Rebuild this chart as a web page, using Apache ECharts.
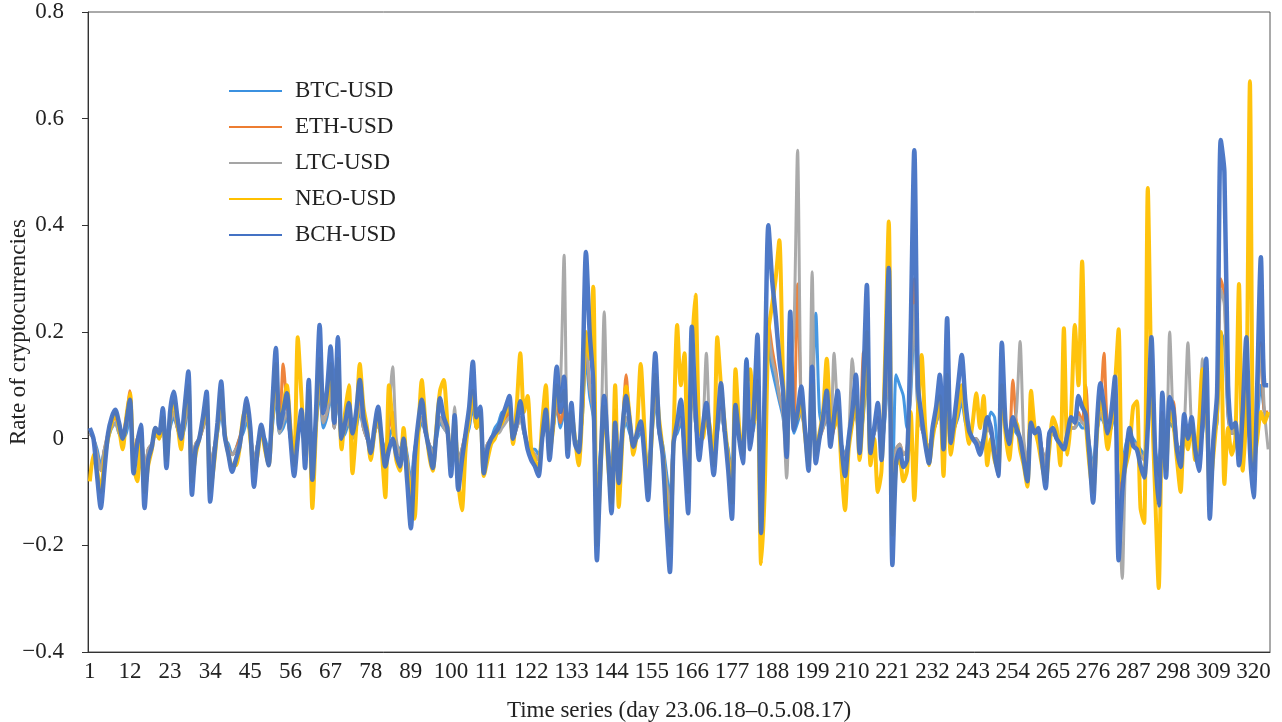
<!DOCTYPE html>
<html>
<head>
<meta charset="utf-8">
<script src="https://cdn.jsdelivr.net/npm/echarts@6/dist/echarts.min.js"></script>
<style>html,body{margin:0;padding:0;background:#fff}#c{width:1282px;height:722px}</style>
</head>
<body>
<div id="c"></div>
<script>
const seriesNames = ['BTC-USD','ETH-USD','LTC-USD','NEO-USD','BCH-USD'];
const colors = ['#3b91e0','#ed7d31','#a5a5a5','#ffc000','#4472c4'];
const yTicks = [-0.4,-0.2,0,0.2,0.4,0.6,0.8];

const btc = [
0.01,0.0,-0.02,-0.05,-0.02,0.0,0.02,0.03,0.01,0.0,
0.01,0.04,-0.03,0.0,0.01,-0.06,-0.02,-0.01,0.01,0.0,
0.02,-0.02,0.02,0.04,0.02,0.0,0.02,0.06,-0.04,-0.01,
0.0,0.02,0.04,-0.05,-0.02,0.01,0.05,0.0,-0.01,-0.03,
-0.02,0.0,0.01,0.03,0.01,-0.04,-0.01,0.01,0.0,-0.02,
0.02,0.08,0.01,0.02,0.04,0.0,-0.03,0.01,0.02,-0.02,
0.05,-0.03,0.02,0.09,0.02,0.04,0.08,0.02,0.08,0.0,
0.01,0.03,0.0,0.02,0.05,0.02,0.0,-0.01,0.01,0.03,
0.0,-0.02,0.0,0.02,-0.01,-0.02,0.0,-0.03,-0.08,-0.02,
0.01,0.03,0.01,-0.01,-0.02,0.0,0.03,0.02,0.01,-0.03,
0.02,-0.04,-0.02,0.0,0.02,0.06,0.02,0.03,-0.03,-0.01,
0.0,0.02,0.03,0.05,0.04,0.05,0.0,0.02,0.04,0.01,
-0.01,-0.02,-0.02,-0.03,0.0,0.03,-0.02,0.02,0.06,0.02,
0.05,-0.01,0.03,0.0,-0.01,0.04,0.15,0.08,0.04,-0.1,
-0.02,0.03,-0.01,-0.06,0.01,-0.03,0.01,0.03,0.01,-0.01,
0.0,0.01,-0.01,-0.05,0.0,0.07,0.01,-0.01,-0.06,-0.11,
0.0,0.01,0.03,-0.01,-0.06,0.09,0.03,-0.02,0.01,0.03,
0.0,-0.03,0.01,0.05,0.01,-0.02,-0.07,0.03,0.0,-0.02,
0.15,0.0,0.02,0.09,-0.08,0.05,0.17,0.13,0.1,0.07,
0.04,-0.02,0.1,0.01,0.03,0.05,0.02,-0.02,0.07,0.235,
0.05,0.02,0.04,0.0,0.02,0.04,-0.01,-0.03,0.0,0.03,
0.05,-0.01,0.04,0.12,-0.01,0.01,0.03,-0.02,0.04,0.13,
-0.1,0.12,0.1,0.08,0.02,0.08,0.22,0.05,0.02,0.0,
-0.02,0.01,0.03,0.05,0.0,0.09,0.0,0.02,0.04,0.07,
0.03,0.01,0.0,0.0,-0.01,0.0,0.02,0.05,0.04,-0.03,
0.08,0.02,0.0,0.02,0.01,0.0,-0.02,-0.04,0.05,0.01,
0.01,-0.02,-0.04,0.0,0.01,0.0,-0.01,-0.01,0.0,0.02,
0.02,0.03,0.02,0.02,-0.01,-0.05,0.01,0.04,0.03,0.01,
0.02,0.05,-0.09,-0.05,-0.01,0.01,0.0,-0.01,-0.02,-0.03,
0.02,0.08,-0.02,-0.05,0.03,-0.03,0.03,0.02,-0.01,-0.02,
0.02,0.0,0.02,-0.01,-0.02,0.01,0.06,-0.06,0.0,0.03,
0.2,0.18,0.04,0.01,0.01,-0.02,0.02,0.07,-0.01,-0.04,
0.03,0.1,0.05,0.04];

const eth = [
0.01,0.0,-0.03,-0.06,-0.02,0.01,0.03,0.04,0.02,0.01,
0.04,0.09,-0.03,0.0,0.02,-0.07,-0.02,-0.01,0.01,0.0,
0.03,-0.03,0.03,0.05,0.02,0.0,0.03,0.07,-0.05,-0.01,
0.0,0.02,0.05,-0.06,-0.02,0.02,0.06,0.01,-0.02,-0.03,
-0.02,0.0,0.03,0.07,0.02,-0.05,-0.01,0.01,-0.01,-0.03,
0.03,0.1,0.02,0.14,0.06,0.0,-0.04,0.02,0.03,-0.03,
0.06,-0.04,0.03,0.12,0.03,0.05,0.1,0.02,0.1,0.0,
0.02,0.04,0.0,0.03,0.07,0.02,0.0,-0.02,0.01,0.03,
0.0,-0.03,0.02,0.05,-0.01,-0.03,0.0,-0.04,-0.1,-0.03,
0.02,0.04,0.01,-0.01,-0.03,0.01,0.04,0.03,0.01,-0.04,
0.03,-0.05,-0.02,0.01,0.03,0.08,0.02,0.03,-0.04,-0.01,
0.0,0.01,0.02,0.03,0.04,0.05,0.0,0.02,0.04,0.02,
-0.01,-0.02,-0.03,-0.04,0.0,0.03,-0.02,0.02,0.07,0.03,
0.06,-0.02,0.04,-0.01,-0.02,0.05,0.18,0.1,0.05,-0.13,
-0.03,0.04,-0.02,-0.09,0.054,-0.05,0.02,0.12,0.03,-0.01,
0.01,0.02,-0.02,-0.07,0.01,0.09,0.02,-0.02,-0.08,-0.14,
0.0,0.02,0.04,-0.02,-0.08,0.12,0.04,-0.02,0.01,0.04,
0.0,-0.04,0.02,0.06,0.01,-0.03,-0.09,0.04,0.0,-0.02,
0.09,-0.01,0.03,0.11,-0.1,0.06,0.22,0.17,0.13,0.08,
0.05,-0.02,0.13,0.02,0.29,0.06,0.02,-0.03,0.08,-0.03,
0.0,0.02,0.05,-0.01,0.02,0.05,-0.01,-0.04,0.0,0.03,
0.07,-0.01,0.16,0.17,-0.01,0.01,0.04,-0.02,0.06,0.18,
-0.13,-0.02,-0.01,-0.03,-0.02,0.11,0.3,0.06,0.02,0.0,
-0.02,0.01,0.03,0.07,-0.01,0.12,0.0,0.02,0.05,0.09,
0.04,0.01,0.0,0.0,-0.02,0.0,0.02,0.01,-0.02,-0.04,
0.1,0.02,-0.01,0.11,0.03,0.0,-0.02,-0.05,0.07,0.01,
0.01,-0.02,-0.05,0.01,0.01,0.0,-0.01,-0.01,0.01,0.02,
0.02,0.05,0.03,0.1,-0.02,-0.07,0.01,0.06,0.16,0.03,
0.03,0.07,-0.13,-0.06,-0.02,0.01,-0.01,-0.01,-0.03,-0.04,
0.03,0.1,-0.03,-0.07,0.05,-0.04,0.05,0.07,-0.01,-0.03,
0.03,0.01,0.02,-0.01,-0.03,0.02,0.08,-0.08,0.0,0.04,
0.3,0.27,0.05,0.01,0.02,-0.03,0.03,0.1,-0.01,-0.06,
0.05,0.18,0.05,0.05];

const ltc = [
0.01,0.0,-0.03,-0.06,-0.02,0.01,0.02,0.03,0.01,0.0,
0.02,0.05,-0.03,-0.01,0.02,-0.07,-0.02,-0.01,0.01,0.0,
0.03,-0.03,0.03,0.05,0.02,0.0,0.03,0.07,-0.05,-0.01,
0.0,0.02,0.05,-0.06,-0.02,0.02,0.06,0.0,-0.02,-0.03,
-0.02,-0.01,0.02,0.04,0.01,-0.05,-0.01,0.01,-0.01,-0.03,
0.03,0.09,0.01,0.03,0.05,0.0,-0.04,0.02,0.03,-0.03,
0.06,-0.04,0.03,0.11,0.03,0.05,0.09,0.02,0.1,0.0,
0.02,0.04,0.0,0.03,0.06,0.02,0.0,-0.02,0.01,0.03,
0.0,-0.03,0.05,0.135,0.0,-0.03,0.0,-0.04,-0.09,-0.03,
0.02,0.04,0.01,-0.01,-0.03,0.01,0.04,0.02,0.01,-0.04,
0.06,-0.05,-0.02,0.01,0.03,0.08,0.02,0.03,-0.04,-0.01,
0.0,0.01,0.01,0.02,0.03,0.04,0.0,0.02,0.04,0.01,
-0.01,-0.02,-0.03,-0.04,0.0,0.03,-0.02,0.02,0.07,0.1,
0.344,-0.02,0.04,-0.01,-0.02,0.05,0.18,0.1,0.05,-0.12,
-0.03,0.238,-0.01,-0.08,0.02,-0.04,0.01,0.04,0.02,-0.01,
0.01,0.02,-0.02,-0.06,0.01,0.08,0.01,-0.02,-0.08,-0.13,
-0.01,0.02,0.04,-0.02,-0.07,0.11,0.03,-0.02,0.01,0.16,
0.0,-0.04,0.01,0.05,0.01,-0.03,-0.08,0.03,0.0,-0.02,
0.08,-0.01,0.03,0.1,-0.09,0.05,0.2,0.15,0.12,0.08,
0.05,-0.074,0.12,0.2,0.541,0.05,0.02,-0.03,0.313,-0.03,
0.0,0.02,0.05,-0.01,0.16,0.05,-0.01,-0.04,0.0,0.15,
0.06,-0.01,0.05,0.14,-0.01,0.01,0.03,-0.02,0.05,0.16,
-0.12,-0.02,-0.01,-0.03,-0.02,0.1,0.25,0.05,0.02,0.0,
-0.02,0.01,0.03,0.06,-0.01,0.11,0.0,0.02,0.05,0.08,
0.04,0.01,0.0,0.0,-0.02,0.0,0.02,0.01,-0.02,-0.07,
0.09,0.02,-0.01,0.02,0.05,0.182,0.0,-0.04,0.02,0.01,
0.01,-0.02,-0.05,0.01,0.01,0.0,-0.01,-0.01,0.01,0.02,
0.02,0.04,0.03,0.02,-0.02,-0.06,0.01,0.05,0.03,0.01,
0.03,0.06,-0.1,-0.262,-0.02,0.01,-0.01,-0.01,-0.03,-0.04,
0.03,0.1,-0.03,-0.06,0.04,-0.04,0.2,0.03,-0.01,-0.03,
0.02,0.18,0.02,-0.01,-0.03,0.15,0.08,-0.08,0.0,0.04,
0.28,0.25,0.05,0.01,0.02,-0.03,0.03,0.1,-0.01,-0.06,
0.05,0.17,0.05,-0.02];

const neo = [
-0.08,-0.03,-0.06,-0.1,-0.04,0.0,0.03,0.05,0.02,-0.02,
0.04,0.085,-0.05,-0.08,0.0,-0.1,-0.05,-0.02,0.02,0.0,
0.04,-0.04,0.04,0.07,0.03,-0.02,0.05,0.1,-0.08,-0.03,
0.0,0.03,0.07,-0.1,-0.05,0.02,0.09,0.01,-0.03,-0.05,
-0.05,-0.02,0.04,0.06,0.0,-0.06,-0.03,0.02,-0.02,-0.05,
0.04,0.14,0.03,0.06,0.1,0.02,-0.05,0.19,0.08,-0.03,
0.09,-0.13,0.02,0.15,0.06,0.07,0.14,0.04,0.15,-0.02,
0.05,0.1,-0.065,0.02,0.14,0.06,0.02,-0.04,0.01,0.05,
-0.02,-0.11,0.1,0.03,-0.04,-0.06,0.02,-0.06,-0.1,-0.15,
0.0,0.11,0.03,-0.03,-0.06,0.02,0.09,0.11,0.03,-0.05,
0.03,-0.08,-0.134,-0.02,0.04,0.09,0.02,0.05,-0.07,-0.04,
-0.01,0.0,0.02,0.03,0.05,0.06,-0.01,0.06,0.16,0.05,
0.08,-0.02,-0.04,-0.06,0.03,0.1,-0.03,0.02,0.1,0.07,
0.09,-0.02,0.05,0.0,-0.05,0.05,0.2,0.15,0.285,-0.2,
-0.06,0.06,-0.04,-0.12,0.1,-0.128,0.0,0.098,0.04,-0.03,
0.02,0.14,0.02,-0.1,0.0,0.12,0.04,-0.02,-0.12,-0.2,
0.0,0.213,0.1,0.16,-0.1,0.15,0.27,0.02,0.0,0.05,
0.02,-0.05,0.19,0.1,0.03,-0.04,-0.12,0.13,0.02,-0.03,
0.1,0.13,0.03,0.1,-0.235,-0.096,0.2,0.25,0.3,0.372,
0.12,-0.02,0.15,0.03,0.04,0.07,0.01,-0.05,0.1,-0.03,
0.01,0.05,0.15,0.04,0.02,0.06,-0.05,-0.134,-0.02,0.03,
0.08,-0.04,0.06,0.2,-0.05,0.0,-0.1,-0.06,0.15,0.407,
-0.18,-0.05,-0.04,-0.08,-0.06,0.05,-0.115,0.05,0.157,0.02,
-0.05,0.0,0.04,0.08,-0.07,0.12,-0.03,0.02,0.06,0.1,
0.04,-0.01,0.03,0.085,0.02,0.08,-0.05,0.0,-0.04,-0.06,
0.1,0.01,-0.04,0.02,0.03,-0.02,-0.05,-0.09,0.09,0.02,
-0.01,-0.05,-0.08,-0.02,0.04,0.02,-0.05,0.207,-0.03,0.05,
0.213,0.1,0.332,0.04,-0.05,-0.1,0.0,0.08,0.04,-0.02,
0.03,0.1,0.205,-0.08,-0.05,-0.02,0.06,0.07,-0.13,-0.158,
0.47,0.1,-0.1,-0.28,0.04,-0.06,0.05,0.03,-0.04,-0.1,
0.02,-0.02,0.03,-0.04,0.02,0.13,0.08,-0.1,-0.03,0.05,
0.2,-0.085,0.02,-0.03,0.0,0.29,-0.06,0.05,0.67,-0.05,
0.0,0.05,0.03,0.05];

const bch = [
0.02,0.0,-0.07,-0.13,-0.06,0.01,0.04,0.054,0.03,0.0,
0.03,0.073,-0.065,-0.01,0.026,-0.13,-0.04,-0.015,0.02,0.01,
0.057,-0.055,0.05,0.088,0.04,0.0,0.06,0.126,-0.105,-0.02,
0.0,0.04,0.088,-0.118,-0.04,0.03,0.107,0.005,-0.03,-0.062,
-0.04,-0.015,0.03,0.076,0.02,-0.09,-0.02,0.026,-0.01,-0.05,
0.06,0.17,0.02,0.05,0.085,0.0,-0.07,0.0,0.054,-0.055,
0.11,-0.077,0.05,0.213,0.048,0.09,0.173,0.03,0.19,0.0,
0.03,0.067,0.01,0.05,0.11,0.04,0.01,-0.027,0.02,0.06,
0.0,-0.052,-0.02,0.0,-0.03,-0.052,0.0,-0.08,-0.168,-0.04,
0.03,0.073,0.016,-0.02,-0.055,0.01,0.076,0.04,0.02,-0.07,
0.044,-0.096,-0.04,0.01,0.06,0.144,0.04,0.06,-0.065,-0.02,
0.0,0.01,0.02,0.04,0.06,0.08,0.0,0.03,0.07,0.02,
-0.02,-0.04,-0.052,-0.07,0.0,0.054,-0.04,0.04,0.135,0.05,
0.116,-0.034,0.067,-0.01,-0.025,0.1,0.35,0.2,0.104,-0.228,
-0.05,0.08,-0.02,-0.14,0.03,-0.083,0.02,0.08,0.03,-0.015,
0.01,0.032,-0.03,-0.115,0.02,0.16,0.023,-0.03,-0.15,-0.25,
-0.01,0.03,0.073,-0.03,-0.14,0.21,0.06,-0.04,0.02,0.067,
0.0,-0.068,0.02,0.104,0.016,-0.06,-0.15,0.063,0.0,-0.046,
0.148,-0.02,0.05,0.195,-0.177,0.1,0.4,0.3,0.23,0.15,
0.09,-0.034,0.238,0.016,0.05,0.098,0.02,-0.06,0.135,-0.046,
0.0,0.04,0.09,-0.015,0.04,0.09,-0.01,-0.07,0.0,0.05,
0.12,-0.027,0.1,0.288,-0.027,0.02,0.067,-0.04,0.1,0.32,
-0.237,-0.046,-0.02,-0.053,-0.04,0.2,0.541,0.1,0.04,-0.01,
-0.046,0.02,0.06,0.12,-0.02,0.226,-0.008,0.04,0.1,0.157,
0.07,0.016,0.0,-0.01,-0.03,0.0,0.04,0.02,-0.03,-0.07,
0.18,0.03,-0.01,0.04,0.02,0.0,-0.04,-0.08,0.03,0.01,
0.02,-0.04,-0.093,0.01,0.02,0.0,-0.01,-0.02,0.01,0.04,
0.03,0.08,0.06,0.045,-0.03,-0.12,0.02,0.104,0.06,0.01,
0.05,0.116,-0.228,-0.1,-0.034,0.02,-0.014,-0.02,-0.05,-0.073,
0.02,0.19,-0.02,-0.125,0.086,-0.073,0.078,0.055,-0.02,-0.053,
0.046,0.0,0.04,-0.02,-0.06,0.03,0.15,-0.15,0.0,0.086,
0.56,0.5,0.1,0.02,0.03,-0.05,0.05,0.19,-0.02,-0.11,
0.1,0.34,0.1,0.1];

const days = bch.map((v, i) => String(i + 1));
const seriesData = [btc, eth, ltc, neo, bch];
const widths = [3, 3, 3, 4, 4.5];

const font = 'Liberation Serif, Times New Roman, serif';
const chart = echarts.init(document.getElementById('c'), null, {renderer: 'canvas'});
chart.setOption({
  animation: false,
  backgroundColor: '#ffffff',
  grid: {left: 88, right: 12, top: 12, bottom: 70, show: true, borderColor: '#555', borderWidth: 1,
         containLabel: false, outerBoundsMode: 'none'},
  legend: {
    data: seriesNames,
    orient: 'vertical',
    left: 224,
    top: 74,
    itemWidth: 53,
    itemHeight: 2,
    itemGap: 12,
    icon: 'rect',
    textStyle: {fontFamily: font, fontSize: 23, color: '#222', lineHeight: 24, padding: [0, 0, 0, 8]}
  },
  xAxis: {
    type: 'category',
    data: days,
    boundaryGap: true,
    name: 'Time series (day 23.06.18\u20130.5.08.17)',
    nameLocation: 'middle',
    nameGap: 47,
    nameMoveOverlap: false,
    nameTextStyle: {fontFamily: font, fontSize: 23, color: '#222'},
    axisLine: {onZero: false, lineStyle: {color: '#333', width: 1}},
    axisTick: {alignWithLabel: true, interval: 10, length: 6, lineStyle: {color: '#333'}},
    axisLabel: {interval: 10, fontFamily: font, fontSize: 23, color: '#222', margin: 8},
    splitLine: {show: false}
  },
  yAxis: {
    type: 'value',
    min: yTicks[0],
    max: yTicks[yTicks.length - 1],
    interval: 0.2,
    name: 'Rate of cryptocurrencies',
    nameLocation: 'middle',
    nameRotate: 90,
    nameGap: 58,
    nameMoveOverlap: false,
    nameTextStyle: {fontFamily: font, fontSize: 23, color: '#222'},
    axisLine: {show: true, onZero: false, lineStyle: {color: '#333', width: 1}},
    axisTick: {show: true, length: 6, lineStyle: {color: '#333'}},
    axisLabel: {
      fontFamily: font, fontSize: 23, color: '#222', margin: 24,
      formatter: v => Math.abs(v) < 1e-9 ? '0' : v.toFixed(1).replace('-', '\u2212')
    },
    splitLine: {show: false}
  },
  series: seriesNames.map((n, i) => ({
    name: n,
    type: 'line',
    data: seriesData[i],
    showSymbol: false,
    symbol: 'none',
    smooth: 0.25,
    z: 2 + i,
    itemStyle: {color: colors[i]},
    lineStyle: {color: colors[i], width: widths[i], opacity: 0.95}
  }))
});
</script>
</body>
</html>
